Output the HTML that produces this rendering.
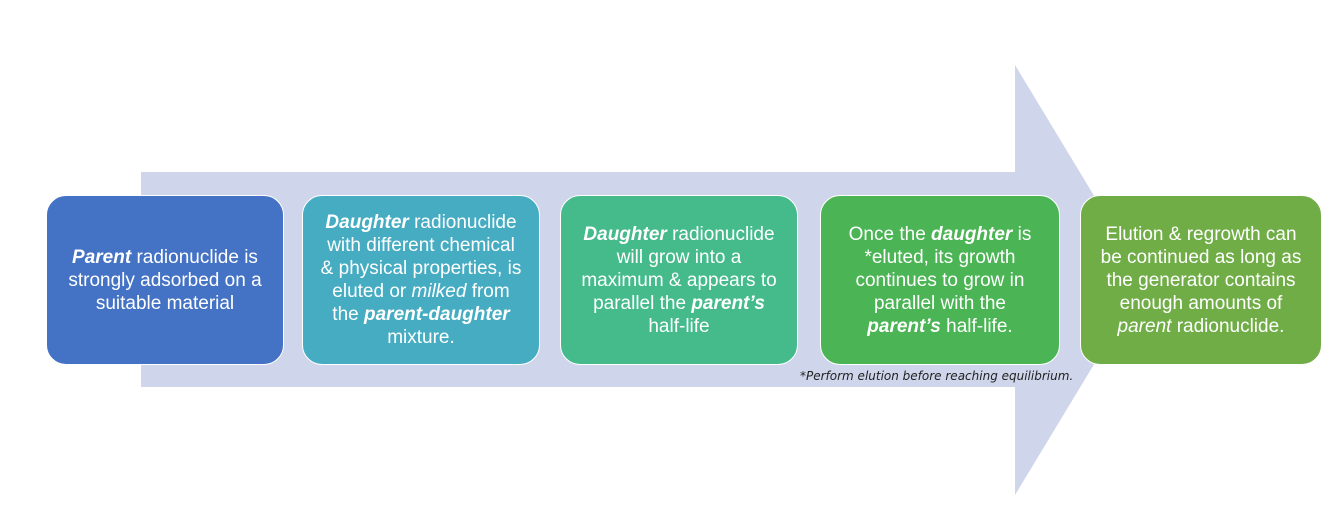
<!DOCTYPE html>
<html><head><meta charset="utf-8"><style>
html,body{margin:0;padding:0;background:#fff;width:1337px;height:520px;overflow:hidden;position:relative;font-family:"Liberation Sans",sans-serif}
.box{position:absolute;top:195px;height:170px;border-radius:20px;border:1px solid #fff;box-sizing:border-box;color:#fff;font-size:19px;line-height:23px;text-align:center;display:flex;align-items:center;justify-content:center;padding:0 2px;white-space:nowrap}
.note{position:absolute;left:800px;top:369px;font-size:12px;font-style:italic;color:#222;font-family:"DejaVu Sans",sans-serif}
</style></head><body>
<svg width="1337" height="520" style="position:absolute;left:0;top:0">
<polygon points="141,172 1015,172 1015,65 1145,280 1015,495 1015,387 141,387" fill="#CFD5EA"/>
</svg>
<div class="box" style="left:46px;width:238px;background:#4472C4"><div><b><i>Parent</i></b> radionuclide is<br>strongly adsorbed on a<br>suitable material</div></div>
<div class="box" style="left:302px;width:238px;background:#46ACC2"><div><b><i>Daughter</i></b> radionuclide<br>with different chemical<br>&amp; physical properties, is<br>eluted or <i>milked</i> from<br>the <b><i>parent-daughter</i></b><br>mixture.</div></div>
<div class="box" style="left:560px;width:238px;background:#45BB8C"><div><b><i>Daughter</i></b> radionuclide<br>will grow into a<br>maximum &amp; appears to<br>parallel the <b><i>parent’s</i></b><br>half-life</div></div>
<div class="box" style="left:820px;width:240px;background:#4BB454"><div>Once the <b><i>daughter</i></b> is<br>*eluted, its growth<br>continues to grow in<br>parallel with the<br><b><i>parent’s</i></b> half-life.</div></div>
<div class="box" style="left:1080px;width:242px;background:#70AD47"><div>Elution &amp; regrowth can<br>be continued as long as<br>the generator contains<br>enough amounts of<br><i>parent</i> radionuclide.</div></div>
<div class="note">*Perform elution before reaching equilibrium.</div>
</body></html>
